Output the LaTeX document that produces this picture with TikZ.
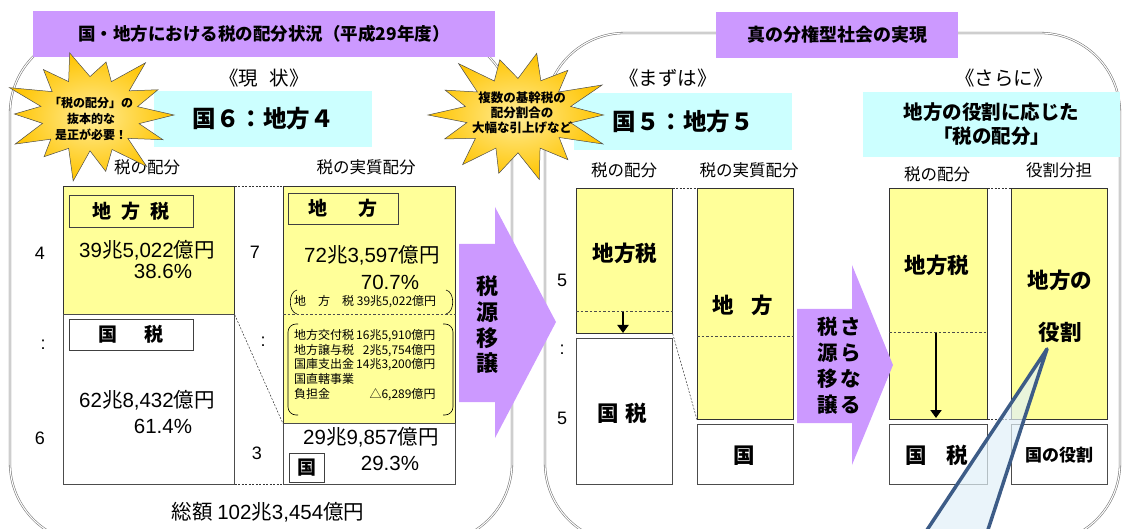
\documentclass[tikz,border=0pt]{standalone}
\usepackage{fontspec}
\setmainfont{Noto Sans CJK JP}
\newfontfamily\latf{Liberation Sans}
\newcommand\lt[1]{{\latf #1}}
\usetikzlibrary{arrows.meta}
\definecolor{purp}{RGB}{204,153,255}
\definecolor{ylw}{RGB}{255,255,153}
\definecolor{cyn}{RGB}{204,255,255}
\definecolor{calloutc}{RGB}{61,92,135}
\definecolor{calloutf}{RGB}{225,240,248}
\definecolor{starA}{RGB}{255,236,150}
\definecolor{starB}{RGB}{255,196,0}
\newcommand\fz[2]{\fontsize{#1}{#2}\selectfont}
\begin{document}
\begin{tikzpicture}[x=1pt,y=-1pt,
 panel/.style={draw=black!55,double=white,double distance=1.1pt,line width=0.55pt,rounded corners=80pt},
 titlebox/.style={fill=purp,inner sep=0pt,font=\fz{17.5}{20}\bfseries},
 cyanbox/.style={fill=cyn,inner sep=0pt,align=center},
 ylwbar/.style={fill=ylw,draw=black!80,line width=0.7pt,inner sep=0pt,anchor=north west},
 whtbar/.style={fill=white,draw=black!70,line width=0.7pt,inner sep=0pt,anchor=north west},
 inbox/.style={draw=black!75,line width=0.7pt,inner sep=0pt,font=\fz{19}{20}\bfseries},
 lbl/.style={font=\fz{16.5}{18}},
 num/.style={font=\fz{18}{20}\latf},
 amt/.style={font=\fz{20.5}{22}},
 small/.style={font=\fz{12}{14.75}},
 conn/.style={draw=black!80,line width=0.5pt,dash pattern=on 2pt off 1.5pt},
 sep/.style={draw=black!70,line width=0.5pt,dash pattern=on 2.5pt off 2pt},
 burst/.style={draw=black!70,line width=0.5pt,inner color=starA,outer color=starB},
 bursttext/.style={align=center,inner sep=0pt},
 bigarrow/.style={fill=purp},
 vtext/.style={align=center,inner sep=0pt,font=\fz{22}{25.7}\bfseries},
 bigtxt/.style={font=\fz{21.5}{24}\bfseries},
 downarr/.style={-{Triangle[length=8pt,width=11pt]},line width=2pt},
 callout/.style={draw=calloutc,line width=3.5pt,fill=calloutf,fill opacity=0.7,line join=round}]
\useasboundingbox (0,0) rectangle (1122,529);
\clip (0,0) rectangle (1122,529);

% panels
\draw[panel] (10,33) rectangle (512,543);
\draw[panel] (545,33) rectangle (1120,543);

% titles
\node[titlebox,minimum width=462pt,minimum height=46pt] (t1) at (264,34) {国・地方における税の配分状況（平成29年度）};
\node[titlebox,minimum width=242pt,minimum height=46pt,font=\fz{18}{20}\bfseries] (t2) at (837,35) {真の分権型社会の実現};

% section headings
\node[font=\fz{19.5}{22}] (h1) at (264,78) {《現\hspace{0.6em}状》};
\node[font=\fz{19.5}{22}] (h2) at (668,78) {《まずは》};
\node[font=\fz{19.5}{22}] (h3) at (1004,78) {《さらに》};

% cyan boxes
\node[cyanbox,minimum width=218pt,minimum height=56pt,font=\fz{23.5}{26}\bfseries] (c1) at (263,119) {国６：地方４};
\node[cyanbox,minimum width=218pt,minimum height=57pt,font=\fz{23.5}{26}\bfseries] (c2) at (683,121.5) {国５：地方５};
\node[cyanbox,minimum width=257pt,minimum height=65pt,font=\fz{19.5}{24}\bfseries] (c3) at (991.5,124.5) {地方の役割に応じた\\「税の配分」};

% ---------- panel 1 ----------
\node[lbl] (l1) at (147,167) {税の配分};
\node[lbl] (l2) at (366,167) {税の実質配分};

\node[ylwbar,minimum width=171pt,minimum height=128pt] (b1y) at (63,186) {};
\node[whtbar,minimum width=171pt,minimum height=170pt] (b1w) at (63,314) {};
\node[ylwbar,minimum width=172pt,minimum height=237pt] (b2y) at (283,186) {};
\node[whtbar,minimum width=172pt,minimum height=61pt] (b2w) at (283,423) {};

\node[inbox,minimum width=124pt,minimum height=32pt] (ib1) at (131,211) {地\hspace{0.55em}方\hspace{0.55em}税};
\node[inbox,minimum width=124pt,minimum height=31pt] (ib2) at (131,334.5) {国\hspace{1.4em}税};
\node[inbox,minimum width=110pt,minimum height=31pt] (ib3) at (343,208.5) {地\hspace{1.6em}方};
\node[inbox,minimum width=35pt,minimum height=29pt] (ib4) at (306.5,467.5) {国};

\node[amt] (a1) at (147,250) {\lt{39}兆\lt{5,022}億円};
\node[amt] (p1) at (163,271) {\lt{38.6\%}};
\node[amt] (a2) at (147,400) {\lt{62}兆\lt{8,432}億円};
\node[amt] (p2) at (163,426) {\lt{61.4\%}};
\node[amt] (a3) at (372,255) {\lt{72}兆\lt{3,597}億円};
\node[amt] (p3) at (390,282) {\lt{70.7\%}};
\node[amt] (a4) at (371,437) {\lt{29}兆\lt{9,857}億円};
\node[amt] (p4) at (390,463) {\lt{29.3\%}};

\node[num] (n4) at (40,253) {4};
\node[num] (nc1) at (43,345) {:};
\node[num] (n6) at (40,438) {6};
\node[num] (n7) at (255,252) {7};
\node[num] (nc2) at (263,342) {:};
\node[num] (n3) at (257,453) {3};

% real-allocation detail
\node[small,anchor=west,inner sep=0pt] (ls) at (294,302) {地\hspace{1em}方\hspace{1em}税 39兆5,022億円};
\draw[line width=0.6pt] (297,290) .. controls (288,292) and (288,312) .. (297,314);
\draw[line width=0.6pt] (446,290) .. controls (455,292) and (455,312) .. (446,314);
\draw[sep] (b2y.west |- 0,314) -- (b2y.east |- 0,314);
\draw[line width=0.6pt,rounded corners=8pt] (298,324) -- (288,324) -- (288,415) -- (298,415);
\draw[line width=0.6pt,rounded corners=8pt] (443,324) -- (453,324) -- (453,415) -- (443,415);
\node[small,anchor=west,inner sep=0pt] (det) at (294,366) {\begin{tabular}{@{}l@{\hspace{2pt}}r@{}}
地方交付税 & 16兆5,910億円\\
地方譲与税 & 2兆5,754億円\\
国庫支出金 & 14兆3,200億円\\
国直轄事業 & \\
負担金 & △6,289億円
\end{tabular}};

\draw[conn] (b1y.north east) -- (b2y.north west);
\draw[conn] (b1w.south east) -- (b2w.south west);
\draw[conn] (b1y.south east) -- (b2y.south west);

\node[font=\fz{20.5}{22}] (tot) at (268,512) {総額 \lt{102}兆\lt{3,454}億円};

% ---------- panel 2 ----------
\node[lbl] (l3) at (624,170) {税の配分};
\node[lbl] (l4) at (749,170) {税の実質配分};
\node[lbl] (l5) at (937,174) {税の配分};
\node[lbl] (l6) at (1059,170) {役割分担};

\node[ylwbar,minimum width=96pt,minimum height=145pt] (bAy) at (576,188) {};
\node[whtbar,minimum width=96pt,minimum height=146pt] (bAw) at (576,338) {};
\node[ylwbar,minimum width=96pt,minimum height=231pt] (bBy) at (697,188) {};
\node[whtbar,minimum width=96pt,minimum height=60pt] (bBw) at (697,424) {};
\node[ylwbar,minimum width=98pt,minimum height=231pt] (bCy) at (889,188) {};
\node[whtbar,minimum width=98pt,minimum height=60pt] (bCw) at (889,424) {};
\node[ylwbar,minimum width=96pt,minimum height=231pt] (bDy) at (1011,188) {};
\node[whtbar,minimum width=96pt,minimum height=60pt] (bDw) at (1011,424) {};

\draw[sep] (bAy.west |- 0,311) -- (bAy.east |- 0,311);
\draw[sep] (bBy.west |- 0,336) -- (bBy.east |- 0,336);
\draw[sep] (bCy.west |- 0,332) -- (bCy.east |- 0,332);

\coordinate (dA1) at (623,312);
\coordinate (dA2) at (623,333);
\draw[downarr] (dA1) -- (dA2);
\coordinate (dC1) at (936,333);
\coordinate (dC2) at (936,418);
\draw[downarr] (dC1) -- (dC2);

\draw[conn] (bAy.north east) -- (bBy.north west);
\draw[conn] (bAy.south east) -- (bBy.south west);
\draw[conn] (bCy.north east) -- (bDy.north west);
\draw[conn] (bCy.south east) -- (bDy.south west);

\node[bigtxt] (tA) at (625,253) {地方税};
\node[bigtxt] (tA2) at (622,413) {国\hspace{0.3em}税};
\node[bigtxt] (tB) at (743,305) {地\hspace{0.8em}方};
\node[bigtxt] (tB2) at (744,456) {国};
\node[bigtxt] (tC) at (937,265) {地方税};
\node[bigtxt] (tC2) at (937,455) {国\hspace{0.9em}税};
\node[bigtxt] (tD) at (1060,280) {地方の};
\node[bigtxt] (tD1) at (1060,332) {役割};
\node[font=\fz{17}{18}\bfseries] (tD2) at (1059,455) {国の役割};

\node[num] (n5a) at (562,280) {5};
\node[num] (nc3) at (562,350) {:};
\node[num] (n5b) at (562,418) {5};

% ---------- arrows ----------
\path[bigarrow] (459,244) -- (495,244) -- (495,207) -- (556,322) -- (495,438) -- (495,402) -- (459,402) -- cycle;
\node[vtext] (v1) at (487,325) {税\\源\\移\\譲};
\path[bigarrow] (797,309) -- (852,309) -- (852,265) -- (893,365) -- (852,465) -- (852,423) -- (797,423) -- cycle;
\node[vtext,font=\fz{20.5}{26}\bfseries] (v2) at (828,366) {税\\源\\移\\譲};
\node[vtext,font=\fz{20.5}{26}\bfseries] (v3) at (851,366) {さ\\ら\\な\\る};

% ---------- starbursts ----------
\begin{scope}[shift={(90,115)},xscale=84,yscale=64]
\shadedraw[burst] (0:1) -- (13:0.6) -- (24:0.95) -- (39:0.58) -- (50:1.05) -- (64:0.6) -- (78:0.9) -- (90:0.56) -- (101:1.05) -- (116:0.58) -- (130:0.85) -- (141:0.6) -- (153:1.0) -- (167:0.58) -- (181:0.9) -- (193:0.6) -- (204:1.05) -- (219:0.58) -- (232:0.9) -- (244:0.58) -- (256:1.0) -- (270:0.6) -- (283:0.85) -- (296:0.58) -- (309:1.05) -- (321:0.6) -- (334:0.9) -- (347:0.58) -- cycle;
\end{scope}
\node[bursttext,font=\fz{12}{16}\bfseries] (s1) at (91,119) {「税の配分」の\\抜本的な\\是正が必要！};
\begin{scope}[shift={(518,115)},xscale=90,yscale=63]
\shadedraw[burst] (0:0.95) -- (12:0.6) -- (26:1.05) -- (38:0.58) -- (52:0.9) -- (65:0.58) -- (77:1.05) -- (90:0.6) -- (103:0.95) -- (115:0.58) -- (128:1.0) -- (142:0.6) -- (155:0.9) -- (168:0.58) -- (180:1.0) -- (193:0.6) -- (206:0.9) -- (219:0.58) -- (231:1.05) -- (244:0.6) -- (257:0.9) -- (270:0.58) -- (282:1.0) -- (295:0.6) -- (308:0.9) -- (321:0.58) -- (333:1.05) -- (347:0.6) -- cycle;
\end{scope}
\node[bursttext,font=\fz{12.5}{15}\bfseries] (s2) at (522,113) {複数の基幹税の\\配分割合の\\大幅な引上げなど};

% ---------- callout ----------
\path[callout] (1047,349) -- (917,545) -- (983,545) -- cycle;
\end{tikzpicture}
\end{document}
